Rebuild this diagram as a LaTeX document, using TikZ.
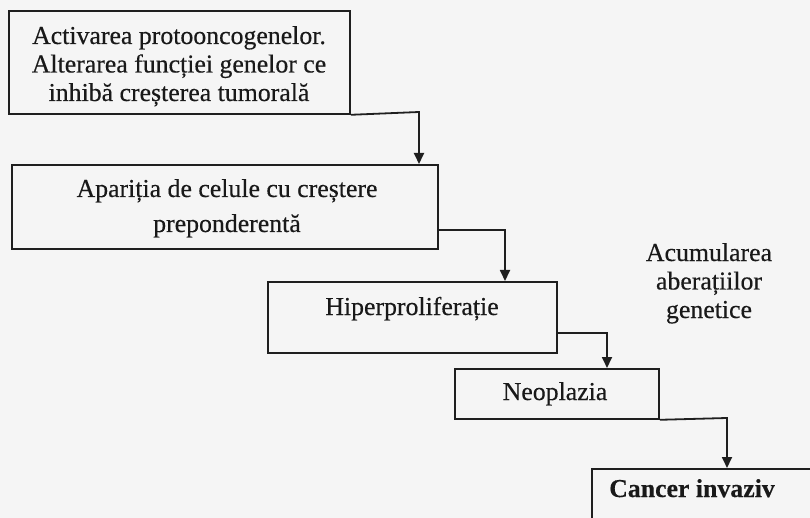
\documentclass[tikz,border=0pt]{standalone}
\usepackage{fontspec}
\setmainfont{Liberation Serif}[FakeBold=0.4]
\usetikzlibrary{arrows.meta}
\begin{document}
\begin{tikzpicture}[x=1pt,y=-1pt,
  box/.style={draw=black!88, line width=1.8pt, inner sep=0pt, anchor=north west},
  txt/.style={text=black!90, align=center, inner sep=0pt, anchor=base},
  f28/.style={font=\fontsize{25.8}{28.5}\selectfont},
  f35/.style={font=\fontsize{25.8}{35}\selectfont},
  conn/.style={draw=black!88, line width=1.8pt, -{Triangle[length=11pt,width=10pt]}},
]
\path[use as bounding box, fill=black!4] (0,0) rectangle (810,518);
\begin{scope}
\clip (0,0) rectangle (810,518);
% boxes
\node[box, minimum width=341pt, minimum height=103pt] (b1) at (8,10) {};
\node[box, minimum width=426pt, minimum height=84pt] (b2) at (11,164) {};
\node[box, minimum width=289pt, minimum height=71pt] (b3) at (267,281) {};
\node[box, minimum width=204pt, minimum height=50pt] (b4) at (454,368) {};
\node[box, minimum width=260pt, minimum height=80pt] (b5) at (591,468) {};
% texts (anchor base = baseline of the last line)
\node[txt, f28] (t1) at (179,101) {Activarea protooncogenelor.\\Alterarea funcției genelor ce\\inhibă creșterea tumorală};
\node[txt, f35] (t2) at (227,232) {Apariția de celule cu creștere\\preponderentă};
\node[txt, f28] (t3) at (412,315) {Hiperproliferație};
\node[txt, f28] (t4) at (555,400) {Neoplazia};
\node[txt, f28] (t5) at (692,497) {\bfseries Cancer invaziv};
\node[txt, f28] (lab) at (709,318) {Acumularea\\aberațiilor\\genetice};
% elbows
\coordinate (k1) at (419,112);
\coordinate (k2) at (505,230);
\coordinate (k3) at (607,333);
\coordinate (k4) at (727,418);
% connectors
\draw[conn] (b1.south east) -- (k1) -- (b2.north -| k1);
\draw[conn] (b2.east |- k2) -- (k2) -- (b3.north -| k2);
\draw[conn] (b3.east |- k3) -- (k3) -- (b4.north -| k3);
\draw[conn] (b4.south east) -- (k4) -- (b5.north -| k4);
\end{scope}
\end{tikzpicture}
\end{document}
